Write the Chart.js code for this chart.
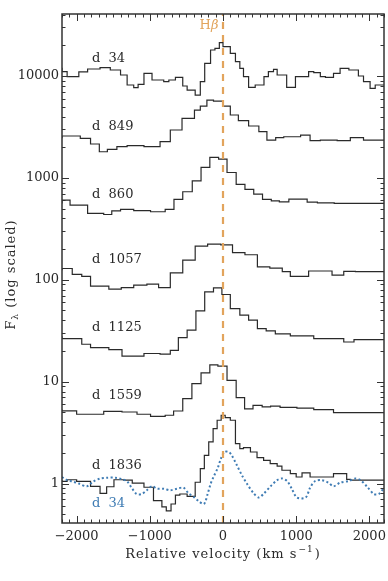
<!DOCTYPE html>
<html lang="en">
<head>
  <meta charset="UTF-8" />
  <title>H-beta line profiles</title>
  <script src="https://cdn.jsdelivr.net/npm/chart.js"></script>
  <style>
    body { margin: 0; background: #fff; }
    .wrap { width: 388px; height: 581px; position: relative; }
  </style>
</head>
<body>
  <div class="wrap"><canvas id="profiles"></canvas></div>

  <script>
    // bin edges (km/s) and flux per bin, one pair per epoch
    const d34Vel = [-2200,-2130,-1970,-1850,-1680,-1540,-1400,-1310,-1220,-1160,-1080,-970,-810,-740,-650,-550,-490,-380,-310,-250,-170,-110,-50,0,100,170,230,280,350,440,560,620,690,740,870,990,1170,1240,1330,1400,1510,1600,1720,1850,1920,2010,2080,2150];
    const d34Flux = [12080,11030,9850,11000,11710,12080,11450,10230,8160,7680,8280,10620,9140,8800,9140,9700,7980,7280,6500,8800,13320,17990,18700,21260,19410,16700,13830,11890,9850,7740,8160,9850,11030,11620,10230,7740,9850,11030,10780,9850,9700,10620,11890,11450,10000,8800,7570,8160];

    const d849Vel = [-2200,-1950,-1810,-1690,-1580,-1450,-1310,-1080,-860,-720,-560,-390,-310,-220,-130,0,100,210,350,490,600,720,830,1060,1190,1330,1560,1740,1920,2010];
    const d849Flux = [2443,2576,2443,2150,1806,1905,2023,2070,2023,2265,2950,3840,4630,5070,5810,5680,5070,4140,3640,3230,2840,2350,2480,2535,2630,2320,2350,2320,2480,2350];

    const d860Vel = [-2200,-2090,-1850,-1630,-1520,-1400,-1220,-990,-790,-670,-550,-420,-300,-180,-60,55,180,300,420,540,660,770,900,1150,1290,1520,1970];
    const d860Flux = [561,605,541,448,437,475,490,478,465,490,614,731,936,1267,1589,1529,1130,862,770,693,614,596,582,619,578,568,561];

    const d1057Vel = [-2200,-2060,-1930,-1810,-1560,-1390,-1220,-1040,-880,-720,-550,-380,-210,-30,130,300,470,640,810,920,1170,1490,1650,1810,1970];
    const d1057Flux = [124,129,113,108,86.5,80.8,83.9,88.5,90.6,83.9,117,156,214,224,220,185,176,134,130,120,108,122,111,121,120];

    const d1125Vel = [-2200,-1930,-1810,-1560,-1380,-1080,-860,-720,-610,-490,-370,-250,-130,-15,100,230,350,470,590,715,920,1240,1650,1790,1970];
    const d1125Flux = [27.9,26.5,23.3,21.6,20.6,17.8,18.9,18.6,20.3,27.1,32.0,49.5,76.1,83.3,71.7,52.2,44.9,40.1,33.2,31.5,29.5,28.1,26.5,24.5,25.9];

    const d1559Vel = [-2200,-2000,-1630,-1380,-1175,-990,-790,-675,-550,-425,-300,-180,-70,55,180,295,410,535,650,780,1010,1240,1510,1880];
    const d1559Flux = [5.32,5.16,4.79,5.12,5.04,4.79,4.57,4.68,5.15,6.81,9.58,12.2,14.6,14.2,10.3,6.97,5.40,5.86,5.65,5.75,5.6,5.5,5.32,4.97];

    const d1836Vel = [-2200,-2130,-2000,-1810,-1680,-1590,-1490,-1360,-1240,-1080,-950,-835,-775,-710,-650,-590,-490,-380,-310,-255,-195,-135,-80,-25,30,100,170,230,280,375,465,555,645,740,805,920,1000,1080,1190,1510,1690,1740,1970];
    const d1836Flux = [1.08,1.05,1.09,1.05,0.94,0.80,0.93,1.09,1.08,1.01,0.92,0.68,0.59,0.54,0.63,0.77,0.79,0.75,1.03,1.40,1.89,2.56,3.46,4.18,4.68,4.44,4.18,2.46,2.20,2.25,2.04,1.80,1.69,1.57,1.48,1.35,1.25,1.16,1.27,1.16,1.25,1.10,1.08];

    // d 34 again, rescaled to the d 1836 continuum (dotted)
    const d34ScaledVel = [-2200,-2130,-2060,-1970,-1860,-1770,-1680,-1590,-1470,-1380,-1310,-1240,-1180,-1110,-1040,-970,-900,-810,-720,-630,-540,-470,-400,-330,-260,-210,-170,-130,-70,-30,20,80,120,190,260,330,420,490,560,650,740,810,880,940,1010,1130,1190,1260,1350,1440,1510,1600,1720,1810,1880,1970,2060,2130,2200];
    const d34ScaledFlux = [1.16,1.08,1.05,1.0,0.94,1.05,1.12,1.14,1.14,1.10,1.05,0.89,0.79,0.79,0.86,0.94,0.89,0.89,0.86,0.89,0.91,0.80,0.74,0.67,0.63,0.79,0.99,1.16,1.43,1.75,2.04,2.04,1.89,1.51,1.20,0.99,0.80,0.73,0.80,0.94,1.08,1.12,1.05,0.89,0.73,0.73,0.91,1.06,1.08,1.02,0.94,1.02,1.06,1.12,1.08,0.93,0.79,0.79,0.91];

    const epochNames = ['d  34', 'd  849', 'd  860', 'd  1057', 'd  1125', 'd  1559', 'd  1836', 'd  34'];
    const xMajorTicks = [-2000, -1000, 0, 1000, 2000];
    const yMajorTicks = [1, 10, 100, 1000, 10000];

    // where the epoch names sit (velocity, flux)
    const nameVel = -1790;
    const nameFlux = [14700, 3160, 678, 156, 34.2, 7.35, 1.51, 0.63];

    const X_MIN = -2200, X_MAX = 2200, Y_MIN = 0.41, Y_MAX = 40600;
    const SERIF = "'DejaVu Serif', 'Liberation Serif', serif";
    const INK = '#2a2a2a';
    const BLUE = '#3f7cb4';
    const ORANGE = '#e2a45c';

    function stepPoints(vel, flux) {
      const pts = vel.map((v, i) => ({ x: v, y: flux[i] }));
      pts.push({ x: X_MAX, y: flux[flux.length - 1] });
      return pts;
    }

    function spectrum(vel, flux) {
      return {
        data: stepPoints(vel, flux),
        stepped: 'after',
        borderColor: INK,
        borderWidth: 1.2,
        pointRadius: 0,
        order: 2
      };
    }

    // draws a string made of pieces, some raised or lowered and smaller
    function drawPieces(ctx, pieces, cx, cy) {
      let total = 0;
      pieces.forEach(p => {
        ctx.font = (p.italic ? 'italic ' : '') + p.size + 'px ' + SERIF;
        p.w = ctx.measureText(p.text).width;
        total += p.w + (p.gap || 0);
      });
      let px = cx - total / 2;
      pieces.forEach(p => {
        ctx.font = (p.italic ? 'italic ' : '') + p.size + 'px ' + SERIF;
        ctx.fillText(p.text, px + (p.gap || 0), cy + (p.dy || 0));
        px += p.w + (p.gap || 0);
      });
    }

    // text, ticks and frame drawn on top of the plot
    const decorations = {
      id: 'decorations',
      afterDatasetsDraw(chart) {
        const { ctx, chartArea: a, scales: { x, y } } = chart;
        ctx.save();
        ctx.strokeStyle = '#333';
        ctx.lineWidth = 1;

        for (let e = -1; e <= 4; e++) {
          for (let m = 1; m <= 9; m++) {
            const v = m * Math.pow(10, e);
            if (v < Y_MIN || v > Y_MAX) continue;
            const py = Math.round(y.getPixelForValue(v)) + 0.5;
            const len = m === 1 ? 7 : 3.5;
            ctx.beginPath();
            ctx.moveTo(a.left, py); ctx.lineTo(a.left + len, py);
            ctx.moveTo(a.right, py); ctx.lineTo(a.right - len, py);
            ctx.stroke();
          }
        }
        for (let v = X_MIN; v <= X_MAX; v += 100) {
          const px = Math.round(x.getPixelForValue(v)) + 0.5;
          const len = v % 1000 === 0 ? 7 : 3.5;
          ctx.beginPath();
          ctx.moveTo(px, a.bottom); ctx.lineTo(px, a.bottom - len);
          ctx.moveTo(px, a.top); ctx.lineTo(px, a.top + len);
          ctx.stroke();
        }

        ctx.lineWidth = 1.5;
        ctx.strokeRect(a.left, a.top, a.right - a.left, a.bottom - a.top);

        // epoch names
        ctx.font = '13px ' + SERIF;
        ctx.textBaseline = 'middle';
        ctx.textAlign = 'left';
        epochNames.forEach((name, i) => {
          ctx.fillStyle = i === epochNames.length - 1 ? BLUE : INK;
          ctx.fillText(name, x.getPixelForValue(nameVel), y.getPixelForValue(nameFlux[i]));
        });

        // H-beta label, just left of the line
        ctx.fillStyle = ORANGE;
        drawPieces(ctx, [
          { text: 'H', size: 13 },
          { text: '\u03b2', size: 13, italic: true }
        ], x.getPixelForValue(0) - 14, a.top + 12);

        // axis titles
        ctx.fillStyle = INK;
        ctx.letterSpacing = '1px';
        drawPieces(ctx, [
          { text: 'Relative velocity (km s', size: 13 },
          { text: '\u22121', size: 9, dy: -5, gap: 1 },
          { text: ')', size: 13, gap: 1 }
        ], (a.left + a.right) / 2, 555);

        ctx.translate(12, (a.top + a.bottom) / 2 + 6);
        ctx.rotate(-Math.PI / 2);
        drawPieces(ctx, [
          { text: 'F', size: 13 },
          { text: '\u03bb', size: 9, dy: 4 },
          { text: ' (log scaled)', size: 13 }
        ], 0, 0);

        ctx.restore();
      }
    };

    const ctx = document.getElementById('profiles').getContext('2d');

    new Chart(ctx, {
      type: 'line',
      data: {
        datasets: [
          {
            data: [{ x: 0, y: Y_MIN }, { x: 0, y: Y_MAX }],
            borderColor: ORANGE,
            borderWidth: 2.2,
            borderDash: [7, 6],
            pointRadius: 0,
            order: 0
          },
          spectrum(d34Vel, d34Flux),
          spectrum(d849Vel, d849Flux),
          spectrum(d860Vel, d860Flux),
          spectrum(d1057Vel, d1057Flux),
          spectrum(d1125Vel, d1125Flux),
          spectrum(d1559Vel, d1559Flux),
          spectrum(d1836Vel, d1836Flux),
          {
            data: d34ScaledVel.map((v, i) => ({ x: v, y: d34ScaledFlux[i] })),
            borderColor: BLUE,
            borderWidth: 2,
            borderDash: [2, 2.4],
            borderCapStyle: 'butt',
            tension: 0.3,
            pointRadius: 0,
            order: 1
          }
        ]
      },
      options: {
        responsive: true,
        maintainAspectRatio: false,
        animation: false,
        layout: { padding: { top: 14, right: 4, left: 0, bottom: 0 } },
        plugins: { legend: { display: false }, tooltip: { enabled: false } },
        scales: {
          x: {
            type: 'linear',
            min: X_MIN,
            max: X_MAX,
            afterBuildTicks: s => { s.ticks = xMajorTicks.map(v => ({ value: v })); },
            afterFit: s => { s.height = 58; s.paddingLeft = 0; s.paddingRight = 0; },
            grid: { display: false, drawTicks: false },
            border: { display: false },
            ticks: {
              font: { family: SERIF, size: 13 },
              color: INK,
              padding: 6,
              maxRotation: 0,
              autoSkip: false,
              callback: v => v < 0 ? '\u2212' + Math.abs(v) : String(v)
            }
          },
          y: {
            type: 'logarithmic',
            min: Y_MIN,
            max: Y_MAX,
            afterBuildTicks: s => { s.ticks = yMajorTicks.map(v => ({ value: v })); },
            afterFit: s => { s.width = 62; s.paddingTop = 0; s.paddingBottom = 0; },
            grid: { display: false, drawTicks: false },
            border: { display: false },
            ticks: {
              font: { family: SERIF, size: 13 },
              color: INK,
              padding: 3,
              autoSkip: false,
              callback: v => String(v)
            }
          }
        }
      },
      plugins: [decorations]
    });
  </script>
</body>
</html>
